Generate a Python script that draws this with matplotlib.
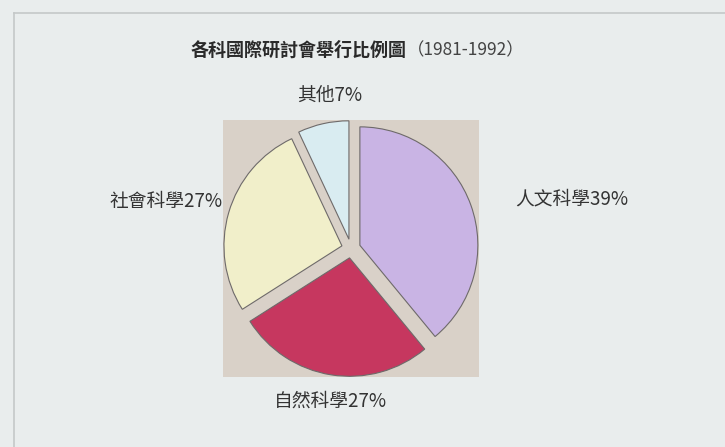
import matplotlib.pyplot as plt
from matplotlib.lines import Line2D

plt.rcParams['font.family'] = ['Noto Sans CJK TC', 'DejaVu Sans']

# data
categories = ["人文科學", "自然科學", "社會科學", "其他"]
shares = [39, 27, 27, 7]
colors = ["#c9b4e4", "#c6375f", "#f1efca", "#d9ecf1"]
title_main = "各科國際研討會舉行比例圖"
title_years = "（1981-1992）"


def main():
    fig = plt.figure(figsize=(7.25, 4.47), dpi=100)
    fig.patch.set_facecolor("#e9eded")

    # faint frame line of the scanned page
    fig.add_artist(Line2D([14 / 725, 14 / 725], [0, 1 - 13 / 447],
                          color="#c4c8c8", lw=1.2, transform=fig.transFigure))
    fig.add_artist(Line2D([14 / 725, 1], [1 - 13 / 447, 1 - 13 / 447],
                          color="#c4c8c8", lw=1.2, transform=fig.transFigure))

    ax = fig.add_axes([223 / 725, 1 - 377 / 447, 256 / 725, 257 / 447])
    ax.pie(shares, colors=colors, startangle=90, counterclock=False,
           explode=[0.08] * len(shares),
           wedgeprops=dict(edgecolor="#6e6a6a", linewidth=0.8))
    ax.set_frame_on(True)
    ax.set_facecolor("#d9d1c8")
    ax.set_xlim(-1.085, 1.085)
    ax.set_ylim(-1.085, 1.085)
    ax.set_aspect("auto")
    for s in ax.spines.values():
        s.set_visible(False)
    ax.set_xticks([])
    ax.set_yticks([])

    # title
    fig.text(407 / 725, 1 - 50 / 447, title_main, ha="right", va="center",
             fontsize=13, fontweight="bold", color="#2a2a2a")
    fig.text(407 / 725, 1 - 50 / 447, title_years, ha="left", va="center",
             fontsize=12.5, color="#444444")

    # slice labels
    labels = [f"{c}{v}%" for c, v in zip(categories, shares)]
    fig.text(515 / 725, 1 - 199 / 447, labels[0], ha="left", va="center",
             fontsize=13.5, color="#333333")
    fig.text(330 / 725, 1 - 401 / 447, labels[1], ha="center", va="center",
             fontsize=13.5, color="#333333")
    fig.text(223 / 725, 1 - 201 / 447, labels[2], ha="right", va="center",
             fontsize=13.5, color="#333333")
    fig.text(330 / 725, 1 - 95 / 447, labels[3], ha="center", va="center",
             fontsize=13.5, color="#333333")

    fig.savefig("out.png", dpi=100, facecolor=fig.get_facecolor())


if __name__ == "__main__":
    main()
